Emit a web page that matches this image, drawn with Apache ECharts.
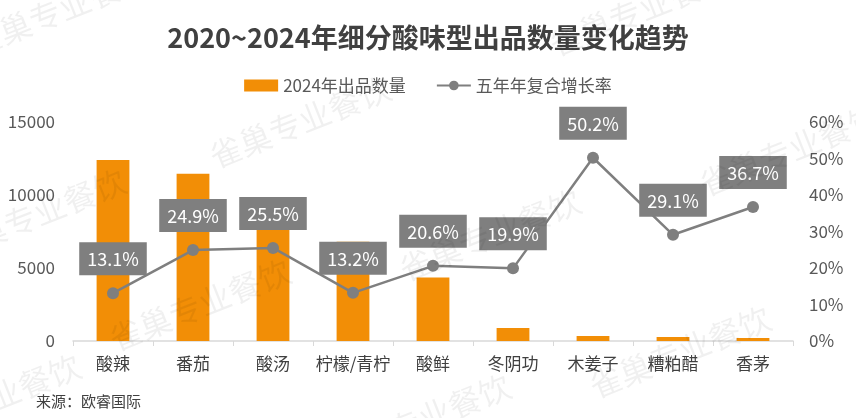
<!DOCTYPE html>
<html>
<head>
<meta charset="utf-8">
<title>2020~2024年细分酸味型出品数量变化趋势</title>
<script src="https://cdn.jsdelivr.net/npm/echarts@6/dist/echarts.min.js"></script>
<style>
  html, body { margin: 0; padding: 0; background: #fff; }
  #main { width: 856px; height: 418px; }
</style>
</head>
<body>
<div id="main"></div>
<script>
'use strict';
// 数据
const categories = ['酸辣', '番茄', '酸汤', '柠檬/青柠', '酸鲜', '冬阴功', '木姜子', '糟粕醋', '香茅'];
const count2024 = [12400, 11450, 7600, 6800, 4350, 890, 350, 270, 200];
const cagr = [13.1, 24.9, 25.5, 13.2, 20.6, 19.9, 50.2, 29.1, 36.7];
const leftTicks = { min: 0, max: 15000, interval: 5000 };
const rightTicks = { min: 0, max: 60, interval: 10 };

const FONT = '"Noto Sans CJK SC", "Noto Sans", sans-serif';
const ORANGE = '#f28e06';
const GREY = '#7f7f7f';

// 水印
const marks = [[300, 122], [35, 215], [200, 305], [490, 235], [790, 150], [680, 352], [420, 420], [60, 10], [640, 10], [-10, 400]];
const watermark = marks.map(([x, y]) => ({
  type: 'text', x: x, y: y, rotation: 0.38, z: 100, silent: true,
  style: {
    text: '雀巢专业餐饮', font: '32px ' + FONT, fill: 'rgba(0,0,0,0.06)',
    textAlign: 'center', textVerticalAlign: 'middle'
  }
}));

const chart = echarts.init(document.getElementById('main'));
chart.setOption({
  textStyle: { fontFamily: FONT },
  title: {
    text: '2020~2024年细分酸味型出品数量变化趋势',
    left: 'center', top: 19,
    textStyle: { fontSize: 27, fontWeight: 'bold', color: '#404040', fontFamily: FONT }
  },
  legend: {
    top: 72, left: 'center', itemGap: 30, itemWidth: 34, itemHeight: 12,
    textStyle: { fontSize: 17, color: '#595959' },
    data: [
      { name: '2024年出品数量', icon: 'rect' },
      { name: '五年年复合增长率' }
    ]
  },
  grid: { left: 73, right: 63, top: 122, bottom: 77 },
  xAxis: {
    type: 'category', data: categories,
    axisLine: { lineStyle: { color: '#d9d9d9', width: 1.5 } },
    axisTick: { show: true, length: 5, lineStyle: { color: '#d9d9d9' } },
    axisLabel: { fontSize: 17, color: '#404040', margin: 14, interval: 0 }
  },
  yAxis: [
    {
      type: 'value', min: leftTicks.min, max: leftTicks.max, interval: leftTicks.interval,
      splitLine: { show: false },
      axisLabel: { fontSize: 17, color: '#595959', margin: 18, formatter: (v) => String(v) }
    },
    {
      type: 'value', min: rightTicks.min, max: rightTicks.max, interval: rightTicks.interval,
      splitLine: { show: false },
      axisLabel: { fontSize: 17, color: '#595959', margin: 16, formatter: '{value}%' }
    }
  ],
  series: [
    {
      name: '2024年出品数量', type: 'bar', data: count2024,
      barWidth: '41%',
      itemStyle: { color: ORANGE }
    },
    {
      name: '五年年复合增长率', type: 'line', yAxisIndex: 1, data: cagr,
      symbol: 'circle', symbolSize: 12,
      lineStyle: { color: GREY, width: 2.5 },
      itemStyle: { color: GREY },
      label: {
        show: true, position: 'top', distance: 12,
        formatter: (p) => p.value.toFixed(1) + '%',
        backgroundColor: GREY, color: '#fff', fontSize: 18,
        padding: [8, 8, 7, 8]
      },
      z: 5
    }
  ],
  graphic: [
    {
      type: 'text', left: 36, top: 394,
      style: { text: '来源：欧睿国际', font: '15px ' + FONT, fill: '#404040' }
    }
  ].concat(watermark)
});
</script>
</body>
</html>
